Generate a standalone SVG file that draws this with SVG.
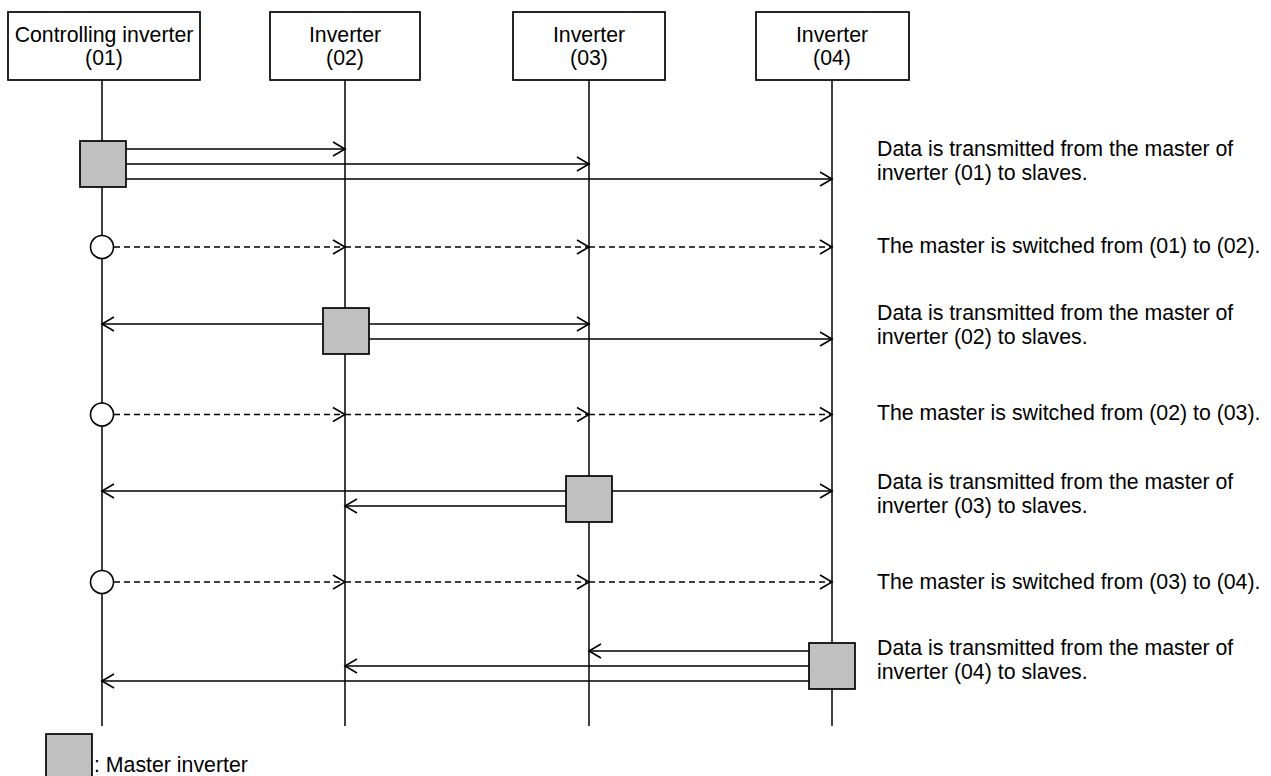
<svg xmlns="http://www.w3.org/2000/svg" width="1271" height="776" viewBox="0 0 1271 776">
<style>
text{font-family:"Liberation Sans",Arial,sans-serif;font-size:21.3px;fill:#000}
.hdr{text-anchor:middle}
.box{fill:#fff;stroke:#000;stroke-width:1.7}
.life{stroke:#000;stroke-width:1.5;fill:none}
.msg{stroke:#000;stroke-width:1.6;fill:none;marker-end:url(#arr)}
.dash{stroke:#000;stroke-width:1.6;fill:none;stroke-dasharray:6 4;marker-end:url(#arr)}
.master{fill:#c0c0c0;stroke:#000;stroke-width:1.7}
.sw{fill:#fff;stroke:#000;stroke-width:1.6}
</style>
<defs>
<marker id="arr" viewBox="-14 -9 16 18" refX="0" refY="0" markerWidth="16" markerHeight="18" orient="auto" markerUnits="userSpaceOnUse">
<path d="M-12,-7 L0,0 L-12,7" fill="none" stroke="#000" stroke-width="1.6"/>
</marker>
</defs>
<rect width="1271" height="776" fill="#fff"/>

<g id="lifelines">
<line class="life" x1="102" y1="80" x2="102" y2="726"/>
<line class="life" x1="345" y1="80" x2="345" y2="726"/>
<line class="life" x1="589" y1="80" x2="589" y2="726"/>
<line class="life" x1="832" y1="80" x2="832" y2="726"/>
</g>

<g id="node-01">
<rect class="box" x="8" y="12" width="192" height="68"/>
<text class="hdr" x="104" y="42">Controlling inverter</text>
<text class="hdr" x="104" y="65">(01)</text>
</g>
<g id="node-02">
<rect class="box" x="270" y="12" width="150" height="68"/>
<text class="hdr" x="345" y="42">Inverter</text>
<text class="hdr" x="345" y="65">(02)</text>
</g>
<g id="node-03">
<rect class="box" x="513" y="12" width="152" height="68"/>
<text class="hdr" x="589" y="42">Inverter</text>
<text class="hdr" x="589" y="65">(03)</text>
</g>
<g id="node-04">
<rect class="box" x="756" y="12" width="153" height="68"/>
<text class="hdr" x="832" y="42">Inverter</text>
<text class="hdr" x="832" y="65">(04)</text>
</g>

<g id="connectors">
<line class="msg" x1="125" y1="149" x2="345" y2="149"/>
<line class="msg" x1="125" y1="164" x2="589" y2="164"/>
<line class="msg" x1="125" y1="179" x2="832" y2="179"/>
<line class="dash" x1="114" y1="247" x2="345" y2="247"/>
<line class="dash" x1="345" y1="247" x2="589" y2="247"/>
<line class="dash" x1="589" y1="247" x2="832" y2="247"/>
<line class="msg" x1="323" y1="324" x2="102" y2="324"/>
<line class="msg" x1="369" y1="324" x2="589" y2="324"/>
<line class="msg" x1="369" y1="339" x2="832" y2="339"/>
<line class="dash" x1="114" y1="414.5" x2="345" y2="414.5"/>
<line class="dash" x1="345" y1="414.5" x2="589" y2="414.5"/>
<line class="dash" x1="589" y1="414.5" x2="832" y2="414.5"/>
<line class="msg" x1="566" y1="491" x2="102" y2="491"/>
<line class="msg" x1="612" y1="491" x2="832" y2="491"/>
<line class="msg" x1="566" y1="506" x2="345" y2="506"/>
<line class="dash" x1="114" y1="582" x2="345" y2="582"/>
<line class="dash" x1="345" y1="582" x2="589" y2="582"/>
<line class="dash" x1="589" y1="582" x2="832" y2="582"/>
<line class="msg" x1="809" y1="651" x2="589" y2="651"/>
<line class="msg" x1="809" y1="666" x2="345" y2="666"/>
<line class="msg" x1="809" y1="681" x2="102" y2="681"/>
</g>

<g id="masters">
<rect class="master" x="80" y="141" width="46" height="46"/>
<rect class="master" x="323" y="308" width="46" height="46"/>
<rect class="master" x="566" y="476" width="46" height="46"/>
<rect class="master" x="809" y="643" width="46" height="46"/>
</g>

<g id="switch-points">
<circle class="sw" cx="102" cy="247" r="11.5"/>
<circle class="sw" cx="102" cy="414.5" r="11.5"/>
<circle class="sw" cx="102" cy="582" r="11.5"/>
</g>

<g id="notes">
<text x="877" y="156">Data is transmitted from the master of</text>
<text x="877" y="180">inverter (01) to slaves.</text>
<text x="877" y="253">The master is switched from (01) to (02).</text>
<text x="877" y="320">Data is transmitted from the master of</text>
<text x="877" y="344">inverter (02) to slaves.</text>
<text x="877" y="420">The master is switched from (02) to (03).</text>
<text x="877" y="489">Data is transmitted from the master of</text>
<text x="877" y="513">inverter (03) to slaves.</text>
<text x="877" y="589">The master is switched from (03) to (04).</text>
<text x="877" y="655">Data is transmitted from the master of</text>
<text x="877" y="679">inverter (04) to slaves.</text>
</g>

<g id="legend">
<rect class="master" x="46" y="734" width="46" height="46"/>
<text x="94" y="772">: Master inverter</text>
</g>
</svg>
